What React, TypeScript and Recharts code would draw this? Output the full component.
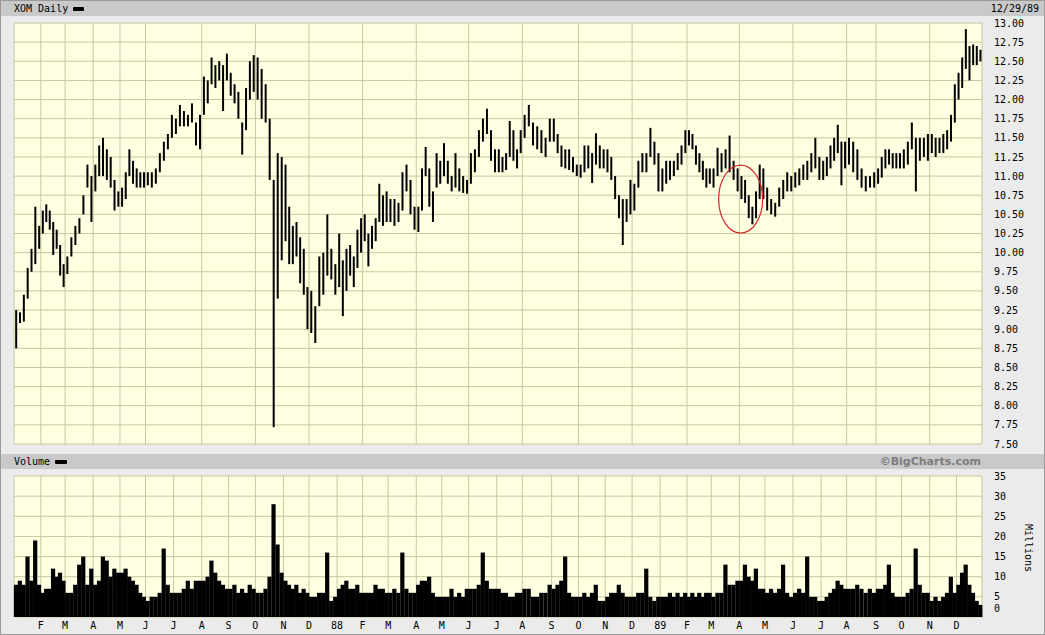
import React from 'react';
import { ComposedChart, Bar, XAxis, YAxis, CartesianGrid, ReferenceDot } from 'recharts';

// Trading days in each month, Jan 1987 .. Dec 1989
const monthDays = [
  21, 19, 22, 21, 20, 22, 22, 21, 21, 22, 20, 22,
  20, 20, 22, 20, 21, 22, 20, 23, 21, 21, 21, 22,
  21, 19, 22, 20, 22, 22, 20, 23, 20, 22, 21, 20,
];
const monthLabels = [
  '', 'F', 'M', 'A', 'M', 'J', 'J', 'A', 'S', 'O', 'N', 'D',
  '88', 'F', 'M', 'A', 'M', 'J', 'J', 'A', 'S', 'O', 'N', 'D',
  '89', 'F', 'M', 'A', 'M', 'J', 'J', 'A', 'S', 'O', 'N', 'D', '',
];
const priceTicks = [7.5, 7.75, 8, 8.25, 8.5, 8.75, 9, 9.25, 9.5, 9.75, 10, 10.25, 10.5, 10.75, 11, 11.25, 11.5, 11.75, 12, 12.25, 12.5, 12.75, 13];
const volTicks = [0, 5, 10, 15, 20, 25, 30, 35];
const SUB = 7; // bars per month

// High / low per bar (7 per month)
const hi87 = [
  9.25, 9.22, 9.45, 9.8, 10.05, 10.6, 10.35,
  10.55, 10.63, 10.55, 10.4, 10.3, 10.1, 9.85,
  9.95, 10.2, 10.35, 10.45, 10.75, 11.15, 11.0,
  11.15, 11.4, 11.5, 11.35, 11.25, 10.95, 10.8,
  10.85, 11.05, 11.35, 11.2, 11.1, 11.05, 11.05,
  11.05, 11.05, 11.1, 11.3, 11.45, 11.55, 11.8,
  11.75, 11.93, 11.85, 11.8, 11.95, 11.7, 11.8,
  12.3, 12.25, 12.55, 12.45, 12.5, 12.45, 12.6,
  12.35, 12.2, 12.1, 11.7, 12.15, 12.5, 12.58,
  12.55, 12.4, 12.2, 11.75, 10.95, 11.3, 11.25,
  11.15, 10.6, 10.35, 10.4, 10.2, 10.05, 9.55,
  9.5, 9.3, 9.95, 10.0, 10.5, 10.05, 9.85,
];
const lo87 = [
  8.75, 9.08, 9.1, 9.4, 9.75, 9.85, 10.05,
  10.25, 10.4, 10.3, 9.97, 10.05, 9.7, 9.55,
  9.72, 9.95, 10.1, 10.25, 10.5, 10.85, 10.4,
  10.8, 11.0, 11.0, 10.95, 10.85, 10.55, 10.6,
  10.6, 10.7, 11.0, 10.9, 10.85, 10.85, 10.85,
  10.88, 10.85, 10.9, 11.05, 11.2, 11.35, 11.5,
  11.55, 11.65, 11.65, 11.65, 11.7, 11.4, 11.35,
  11.8, 11.95, 12.2, 12.15, 12.25, 11.85, 12.25,
  12.05, 11.95, 11.75, 11.28, 11.6, 12.0, 12.1,
  12.0, 11.75, 11.7, 10.95, 7.72, 9.4, 9.9,
  10.15, 9.85, 9.85, 9.95, 9.6, 9.45, 9.0,
  8.95, 8.82, 9.3, 9.45, 9.7, 9.65, 9.45,
];
const hi88 = [
  10.25, 9.9, 10.05, 10.1, 9.95, 10.3, 10.45,
  10.5, 10.25, 10.35, 10.45, 10.9, 10.75, 10.8,
  10.7, 10.7, 10.65, 11.05, 11.15, 10.95, 10.6,
  10.6, 11.1, 11.38, 11.1, 10.8, 11.3, 11.2,
  11.43, 11.2, 11.0, 11.3, 11.1, 11.0, 10.95,
  11.3, 11.35, 11.6, 11.75, 11.88, 11.6, 11.35,
  11.35, 11.25, 11.3, 11.72, 11.6, 11.35, 11.6,
  11.8, 11.93, 11.7, 11.65, 11.6, 11.5, 11.75,
  11.75, 11.55, 11.4, 11.35, 11.35, 11.25, 11.15,
  11.15, 11.4, 11.4, 11.3, 11.56, 11.4, 11.35,
  11.35, 11.25, 11.0, 10.75, 10.7, 10.7, 10.95,
  10.9, 11.2, 11.3, 11.3, 11.63, 11.45, 11.3,
];
const lo88 = [
  9.55, 9.17, 9.5, 9.7, 9.55, 9.8, 10.0,
  10.15, 9.82, 10.05, 10.15, 10.4, 10.35, 10.4,
  10.4, 10.35, 10.4, 10.55, 10.8, 10.5, 10.3,
  10.27, 10.55, 11.0, 10.6, 10.4, 10.85, 10.9,
  11.0, 10.9, 10.8, 10.85, 10.8, 10.78, 10.77,
  10.9, 11.05, 11.25, 11.45, 11.55, 11.2, 11.05,
  11.05, 11.05, 11.08, 11.25, 11.2, 11.1, 11.3,
  11.5, 11.65, 11.4, 11.35, 11.3, 11.25, 11.45,
  11.45, 11.3, 11.12, 11.1, 11.08, 11.05, 11.0,
  10.98, 11.05, 11.1, 10.91, 11.15, 11.1, 11.1,
  11.05, 10.95, 10.7, 10.45, 10.1, 10.4, 10.5,
  10.55, 10.85, 11.05, 11.05, 11.25, 11.15, 10.8,
];
const hi89 = [
  11.1, 11.2, 11.2, 11.2, 11.3, 11.4, 11.6,
  11.6, 11.55, 11.4, 11.3, 11.2, 11.1, 11.1,
  11.1, 11.37, 11.3, 11.35, 11.53, 11.2, 11.1,
  11.0, 10.95, 10.75, 10.6, 10.8, 11.15, 11.1,
  10.85, 10.7, 10.65, 10.85, 10.95, 11.05, 11.0,
  11.05, 11.1, 11.15, 11.2, 11.3, 11.5, 11.25,
  11.2, 11.25, 11.4, 11.5, 11.67, 11.45, 11.45,
  11.5, 11.45, 11.35, 11.1, 11.0, 11.0, 11.05,
  11.1, 11.25, 11.35, 11.35, 11.3, 11.3, 11.3,
  11.35, 11.45, 11.7, 11.5, 11.5, 11.5, 11.55,
  11.55, 11.5, 11.5, 11.55, 11.6, 11.8, 12.2,
  12.35, 12.55, 12.92, 12.7, 12.72, 12.7, 12.65,
];
const lo89 = [
  10.8, 10.9, 10.95, 11.0, 11.08, 11.15, 11.3,
  11.4, 11.35, 11.15, 11.05, 10.95, 10.85, 10.9,
  10.85, 11.0, 11.05, 11.1, 11.05, 10.95, 10.8,
  10.7, 10.65, 10.45, 10.37, 10.45, 10.7, 10.7,
  10.55, 10.5, 10.47, 10.6, 10.7, 10.8, 10.8,
  10.85, 10.88, 10.95, 10.95, 11.05, 11.1, 10.95,
  10.95, 11.0, 11.1, 11.2, 11.3, 10.88, 11.1,
  11.15, 11.05, 10.95, 10.85, 10.8, 10.85, 10.85,
  10.9, 10.98, 11.1, 11.15, 11.1, 11.1, 11.1,
  11.1, 11.15, 11.35, 10.8, 11.2, 11.25, 11.2,
  11.3, 11.25, 11.3, 11.3, 11.35, 11.45, 11.7,
  12.0, 12.15, 12.4, 12.25, 12.45, 12.45, 12.5,
];
// Volume, millions of shares
const vol87 = [
  8, 9, 8, 15, 9, 19, 8,
  6, 7, 7, 12, 10, 11, 9,
  6, 6, 8, 13, 15, 8, 12,
  8, 9, 15, 14, 10, 12, 11,
  11, 12, 10, 9, 8, 6, 5,
  4, 5, 5, 6, 17, 8, 6,
  6, 6, 7, 9, 7, 9, 9,
  9, 10, 14, 11, 9, 8, 7,
  7, 8, 6, 7, 6, 8, 7,
  6, 6, 7, 10, 28, 18, 11,
  9, 8, 7, 8, 6, 7, 6,
  5, 5, 6, 6, 16, 4, 5,
];
const vol88 = [
  7, 8, 9, 7, 7, 8, 6,
  6, 6, 6, 8, 7, 7, 6,
  6, 7, 6, 16, 7, 6, 6,
  8, 9, 9, 10, 6, 5, 5,
  5, 5, 7, 5, 6, 5, 7,
  7, 7, 8, 16, 9, 7, 7,
  7, 6, 6, 5, 5, 6, 6,
  7, 7, 5, 5, 6, 6, 8,
  7, 8, 9, 15, 6, 5, 5,
  5, 6, 5, 6, 8, 4, 4,
  5, 6, 6, 8, 6, 5, 5,
  5, 6, 6, 12, 5, 4, 5,
];
const vol89 = [
  5, 5, 6, 5, 6, 5, 6,
  5, 6, 5, 6, 5, 6, 6,
  5, 6, 6, 13, 8, 8, 9,
  9, 13, 10, 9, 12, 7, 7,
  6, 7, 6, 7, 13, 6, 5,
  6, 7, 6, 15, 5, 5, 4,
  4, 5, 6, 7, 9, 8, 7,
  7, 7, 8, 7, 6, 7, 6,
  7, 7, 8, 13, 6, 5, 5,
  5, 6, 7, 17, 8, 6, 6,
  4, 5, 4, 5, 6, 10, 6,
  8, 11, 13, 8, 6, 4, 3,
];
// Red hand-drawn circle (trading-day index, price)
const circleMark = { day: 569, price: 10.7 };

const monthStarts: number[] = [];
{
  let s = 0;
  for (const d of monthDays) { monthStarts.push(s); s += d; }
  monthStarts.push(s);
}
const totalDays = monthStarts[monthStarts.length - 1];

const highs = [...hi87, ...hi88, ...hi89];
const lows = [...lo87, ...lo88, ...lo89];
const vols = [...vol87, ...vol88, ...vol89];

const data = monthDays.flatMap((d, m) =>
  Array.from({ length: SUB }, (_, k) => {
    const i = m * SUB + k;
    return { x: monthStarts[m] + ((k + 0.5) * d) / SUB, range: [lows[i], highs[i]], vol: vols[i] };
  })
);

const MONO = '"DejaVu Sans Mono", "Liberation Mono", monospace';
const GRID = '#c9c7a0';
const PLOT_BG = '#ffffe2';
const BAND = '#c9c9c9';
const FRAME = '#ebebeb';

const VolTick = (props: any) => {
  const v = props.payload.value;
  return (
    <text x={props.x} y={v === 0 ? props.y - 9 : props.y} dy="0.355em" textAnchor="start" fontSize={10} fontFamily={MONO} fill="#000">
      {v}
    </text>
  );
};

// Volume columns touch each other, like the daily histogram of the original
const VolShape = (p: any) => {
  const w = 4.2;
  const cx = p.x + p.width / 2;
  return <rect x={cx - w / 2} y={p.y} width={w} height={Math.max(0, p.height)} fill="#000" />;
};

const CircleShape = (props: any) => (
  <ellipse cx={props.cx} cy={props.cy} rx={22} ry={34} fill="none" stroke="#d02828" strokeWidth={1.2} />
);

export default function App() {
  const W = 1045;
  const H = 635;
  return (
    <div style={{ position: 'absolute', left: 0, top: 0, width: W, height: H, background: FRAME, fontFamily: MONO, overflow: 'hidden' }}>
      <div style={{ position: 'absolute', left: 0, top: 0, width: W, height: H, boxSizing: 'border-box', border: '1px solid #9a9a9a' }} />
      {/* header band */}
      <div style={{ position: 'absolute', left: 1, top: 1, width: W - 2, height: 15, background: BAND }} />
      <div style={{ position: 'absolute', left: 14, top: 2, fontSize: 10, lineHeight: '13px', color: '#000' }}>XOM Daily</div>
      <div style={{ position: 'absolute', left: 73, top: 7, width: 11, height: 4, background: '#000', borderRadius: 1 }} />
      <div style={{ position: 'absolute', right: 6, top: 2, fontSize: 10, lineHeight: '13px', color: '#000' }}>12/29/89</div>
      {/* volume band */}
      <div style={{ position: 'absolute', left: 1, top: 454, width: W - 2, height: 15, background: BAND }} />
      <div style={{ position: 'absolute', left: 14, top: 455, fontSize: 10, lineHeight: '13px', color: '#000' }}>Volume</div>
      <div style={{ position: 'absolute', left: 55, top: 460, width: 12, height: 4, background: '#000', borderRadius: 1 }} />
      <div style={{ position: 'absolute', right: 64, top: 455, fontSize: 11, lineHeight: '13px', color: '#7c7c7c', fontWeight: 'bold', fontFamily: '"DejaVu Sans", Verdana, sans-serif' }}>©BigCharts.com</div>
      <div style={{ position: 'absolute', left: 1028, top: 548, fontSize: 10, lineHeight: '10px', color: '#000', transform: 'translate(-50%, -50%) rotate(90deg)', whiteSpace: 'nowrap' }}>Millions</div>

      {/* price panel */}
      <div style={{ position: 'absolute', left: 0, top: 0 }}>
        <ComposedChart width={W} height={H} data={data} margin={{ top: 23, right: 13, bottom: 191, left: 14 }}>
          <CartesianGrid stroke={GRID} fill={PLOT_BG} fillOpacity={1} />
          <XAxis type="number" dataKey="x" domain={[0, totalDays]} ticks={monthStarts} hide />
          <YAxis
            orientation="right"
            width={50}
            domain={[7.5, 13]}
            allowDataOverflow
            ticks={priceTicks}
            interval={0}
            axisLine={false}
            tickLine={false}
            tickSize={0}
            tickMargin={12}
            tickFormatter={(v: number) => v.toFixed(2)}
            tick={{ fill: '#000', fontSize: 10, fontFamily: MONO }}
          />
          <Bar dataKey="range" fill="#000" barSize={2} isAnimationActive={false} />
          <ReferenceDot x={circleMark.day} y={circleMark.price} shape={CircleShape} ifOverflow="visible" />
        </ComposedChart>
      </div>

      {/* volume panel */}
      <div style={{ position: 'absolute', left: 0, top: 0 }}>
        <ComposedChart width={W} height={H} data={data} margin={{ top: 476, right: 13, bottom: 0, left: 14 }}>
          <CartesianGrid stroke={GRID} fill={PLOT_BG} fillOpacity={1} />
          <XAxis
            type="number"
            dataKey="x"
            domain={[0, totalDays]}
            ticks={monthStarts}
            interval={0}
            height={18}
            axisLine={false}
            tickLine={false}
            tickSize={0}
            tickMargin={5}
            tickFormatter={(v: number) => monthLabels[monthStarts.indexOf(v)] ?? ''}
            tick={{ fill: '#000', fontSize: 10, fontFamily: MONO }}
          />
          <YAxis
            orientation="right"
            width={50}
            domain={[0, 35]}
            allowDataOverflow
            ticks={volTicks}
            interval={0}
            axisLine={false}
            tickLine={false}
            tickSize={0}
            tickMargin={12}
            tick={<VolTick />}
          />
          <Bar dataKey="vol" fill="#000" shape={VolShape} isAnimationActive={false} />
        </ComposedChart>
      </div>
    </div>
  );
}
